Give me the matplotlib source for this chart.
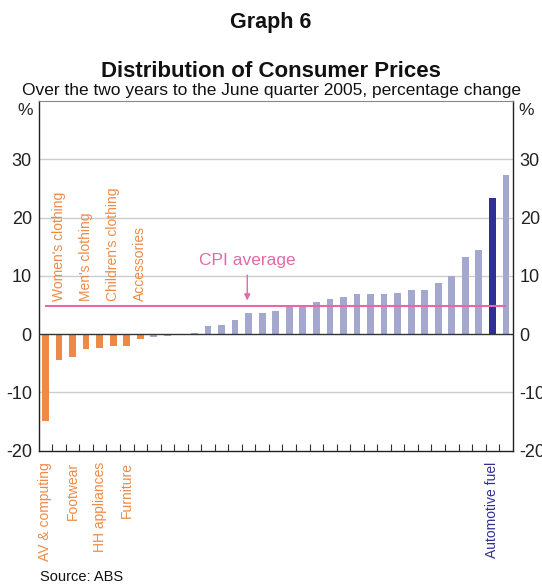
import matplotlib
matplotlib.use("Agg")
import matplotlib.pyplot as plt

plt.rcParams["font.family"] = ["Liberation Sans", "DejaVu Sans"]

# ── Data ──────────────────────────────────────────────────────────────────────
values = [-14.9, -4.5, -4.0, -2.5, -2.3, -2.1, -2.0, -0.9, -0.5, -0.35, -0.1,
          0.2, 1.4, 1.6, 2.5, 3.7, 3.7, 3.9, 4.7, 5.0, 5.5, 6.1, 6.3, 6.8, 6.8,
          6.9, 7.1, 7.6, 7.6, 8.7, 9.9, 13.2, 14.5, 23.4, 27.3]
groups = (["highlight"] * 8 + ["other"] * 25 + ["fuel"] + ["other"])
cpi_average = 4.9

top_label_idx = [1, 3, 5, 7]
top_label_text = ["Women's clothing", "Men's clothing", "Children's clothing", "Accessories"]
bottom_label_idx = [0, 2, 4, 6, 33]
bottom_label_text = ["AV & computing", "Footwear", "HH appliances", "Furniture", "Automotive fuel"]

yticks = [-20, -10, 0, 10, 20, 30]

# ── Colours ───────────────────────────────────────────────────────────────────
ORANGE = "#EE8A45"
LAVENDER = "#A5A8CE"
NAVY = "#2E3192"
PINK = "#E36AA5"
colour_map = {"highlight": ORANGE, "other": LAVENDER, "fuel": NAVY}

fig = plt.figure(figsize=(5.42, 5.85), dpi=100)
ax = fig.add_axes([0.0714, 0.2296, 0.8746, 0.5978])

x = list(range(len(values)))
ax.bar(x, values, width=0.5, color=[colour_map[g] for g in groups], zorder=3)

ax.set_xlim(-0.5, len(values) - 0.5)
ax.set_ylim(-20, 40)

for y in [-10, 10, 20, 30]:
    ax.axhline(y, color="#CCCCCC", lw=1, zorder=1)
ax.axhline(0, color="#333333", lw=1, zorder=4)

# CPI average line + annotation
ax.hlines(cpi_average, 0, len(values) - 1, color=PINK, lw=1.5, zorder=5)
ax.annotate("", xy=(14.9, cpi_average + 0.4), xytext=(14.9, 10.6),
            arrowprops=dict(arrowstyle="-|>", color=PINK, lw=1, mutation_scale=9),
            zorder=5)
ax.text(14.9, 12.6, "CPI average", color=PINK, fontsize=12.5,
        ha="center", va="center")

# category labels
for i, t in zip(top_label_idx, top_label_text):
    ax.text(i, 5.6, t, rotation=90, ha="center", va="bottom",
            color=ORANGE, fontsize=10)
for i, t in zip(bottom_label_idx, bottom_label_text):
    c = NAVY if groups[i] == "fuel" else ORANGE
    ax.text(i, -21.9, t, rotation=90, ha="center", va="top",
            color=c, fontsize=10, clip_on=False)

# axes styling
ax.set_yticks(yticks)
ax.set_yticklabels([str(v) for v in yticks])
ax.tick_params(axis="y", length=0, labelsize=13, pad=5,
               labelleft=True, labelright=True, colors="#222222")
ax.set_xticks([i + 0.5 for i in range(len(values) - 1)])
ax.set_xticklabels([])
ax.tick_params(axis="x", direction="in", length=5, width=0.8, color="#333333")
for side in ["left", "right", "bottom"]:
    ax.spines[side].set_color("#222222")
    ax.spines[side].set_linewidth(1)
ax.spines["top"].set_color("#888888")

ax.text(-0.012, 0.995, "%", transform=ax.transAxes, ha="right", va="top",
        fontsize=12.5, color="#222222")
ax.text(1.012, 0.995, "%", transform=ax.transAxes, ha="left", va="top",
        fontsize=12.5, color="#222222")

# titles
fig.text(0.5, 1 - 28 / 585, "Graph 6", ha="center", va="baseline",
         fontsize=15.5, fontweight="bold", color="#111111")
fig.text(0.5, 1 - 77 / 585, "Distribution of Consumer Prices", ha="center",
         va="baseline", fontsize=16, fontweight="bold", color="#111111")
fig.text(0.5, 1 - 95 / 585,
         "Over the two years to the June quarter 2005, percentage change",
         ha="center", va="baseline", fontsize=12.5, color="#111111")
fig.text(40 / 542, 1 - 577 / 585, "Source: ABS", ha="left", va="center",
         fontsize=10.5, color="#111111")

fig.savefig("out.png", dpi=100, facecolor="white")
